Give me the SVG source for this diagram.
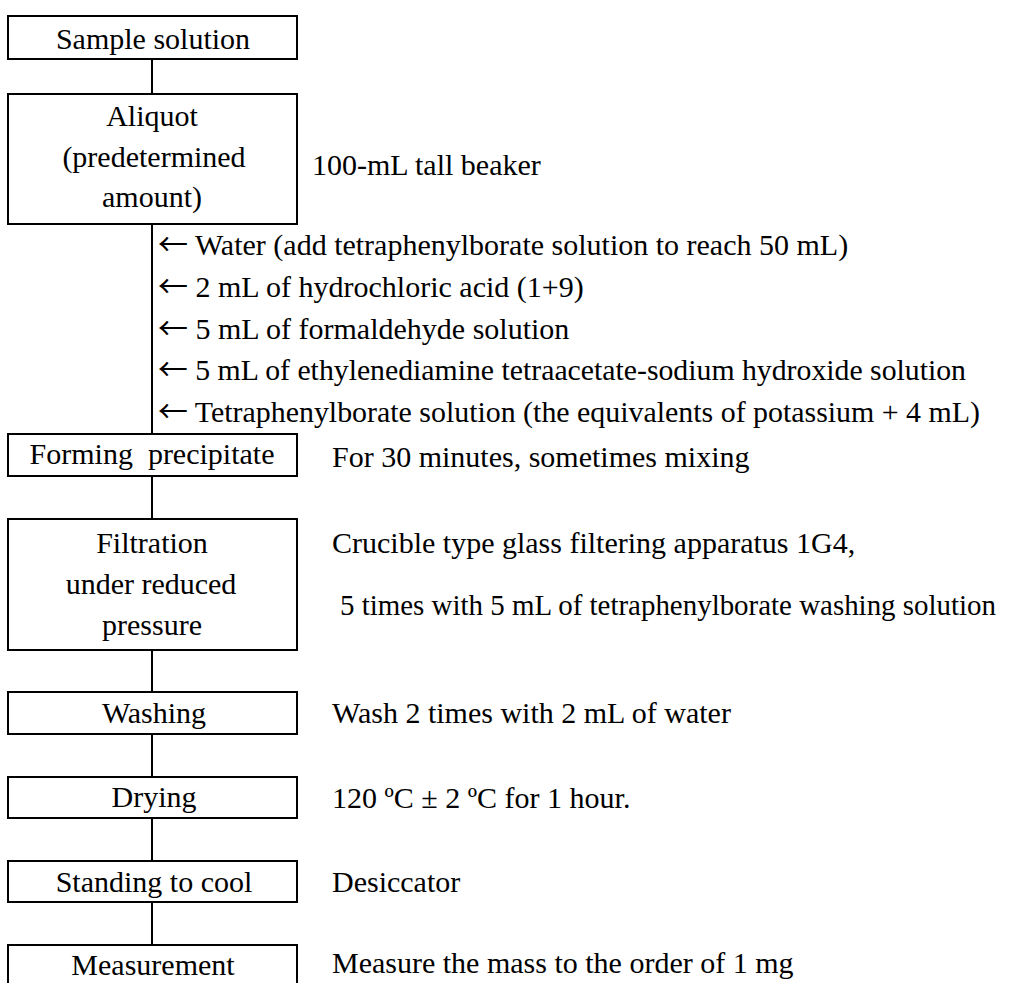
<svg xmlns="http://www.w3.org/2000/svg" width="1014" height="983" viewBox="0 0 1014 983">
<style>
.box{fill:#fff;stroke:#000;stroke-width:2}
.ln{stroke:#000;stroke-width:2;fill:none}
.c{text-anchor:middle}
.ar{font-family:"Noto Sans CJK JP","DejaVu Sans",sans-serif}
</style>
<rect width="1014" height="983" fill="#fff"/>
<g id="connectors">
<line class="ln" x1="152" y1="59" x2="152" y2="94"/>
<line class="ln" x1="152" y1="224" x2="152" y2="434"/>
<line class="ln" x1="152" y1="476" x2="152" y2="519"/>
<line class="ln" x1="152" y1="650" x2="152" y2="692"/>
<line class="ln" x1="152" y1="734" x2="152" y2="777"/>
<line class="ln" x1="152" y1="818" x2="152" y2="861"/>
<line class="ln" x1="152" y1="902" x2="152" y2="945"/>
</g>
<g font-family="'Liberation Serif', 'Times New Roman', serif" font-size="30" fill="#000">
<g id="n1"><rect class="box" x="8" y="16" width="289" height="43"/><text class="c" x="153" y="49">Sample solution</text></g>
<g id="n2"><rect class="box" x="8" y="94" width="289" height="130"/>
<text class="c" x="152" y="126">Aliquot</text>
<text class="c" x="154" y="167">(predetermined</text>
<text class="c" x="152" y="207">amount)</text></g>
<g id="n3"><rect class="box" x="8" y="434" width="289" height="42"/><text class="c" x="152" y="464" xml:space="preserve">Forming  precipitate</text></g>
<g id="n4"><rect class="box" x="8" y="519" width="289" height="131"/>
<text class="c" x="152" y="553">Filtration</text>
<text class="c" x="151" y="594">under reduced</text>
<text class="c" x="152" y="635">pressure</text></g>
<g id="n5"><rect class="box" x="8" y="692" width="289" height="42"/><text class="c" x="154" y="723">Washing</text></g>
<g id="n6"><rect class="box" x="8" y="777" width="289" height="41"/><text class="c" x="154" y="807">Drying</text></g>
<g id="n7"><rect class="box" x="8" y="861" width="289" height="41"/><text class="c" x="154" y="892">Standing to cool</text></g>
<g id="n8"><rect class="box" x="8" y="945" width="289" height="60"/><text class="c" x="153" y="975">Measurement</text></g>
<g id="notes">
<text x="312" y="175">100-mL tall beaker</text>
<text x="158" y="255"><tspan class="ar">←</tspan> Water (add tetraphenylborate solution to reach 50 mL)</text>
<text x="158" y="297"><tspan class="ar">←</tspan> 2 mL of hydrochloric acid (1+9)</text>
<text x="158" y="339"><tspan class="ar">←</tspan> 5 mL of formaldehyde solution</text>
<text x="158" y="380" textLength="808" lengthAdjust="spacingAndGlyphs"><tspan class="ar">←</tspan> 5 mL of ethylenediamine tetraacetate-sodium hydroxide solution</text>
<text x="158" y="422" textLength="822" lengthAdjust="spacingAndGlyphs"><tspan class="ar">←</tspan> Tetraphenylborate solution (the equivalents of potassium + 4 mL)</text>
<text x="332" y="467">For 30 minutes, sometimes mixing</text>
<text x="332" y="553">Crucible type glass filtering apparatus 1G4,</text>
<text x="340" y="615" font-size="28.5" textLength="656" lengthAdjust="spacingAndGlyphs">5 times with 5 mL of tetraphenylborate washing solution</text>
<text x="332" y="723">Wash 2 times with 2 mL of water</text>
<text x="332" y="808">120 ºC ± 2 ºC for 1 hour.</text>
<text x="332" y="892">Desiccator</text>
<text x="332" y="973">Measure the mass to the order of 1 mg</text>
</g>
</g>
</svg>
